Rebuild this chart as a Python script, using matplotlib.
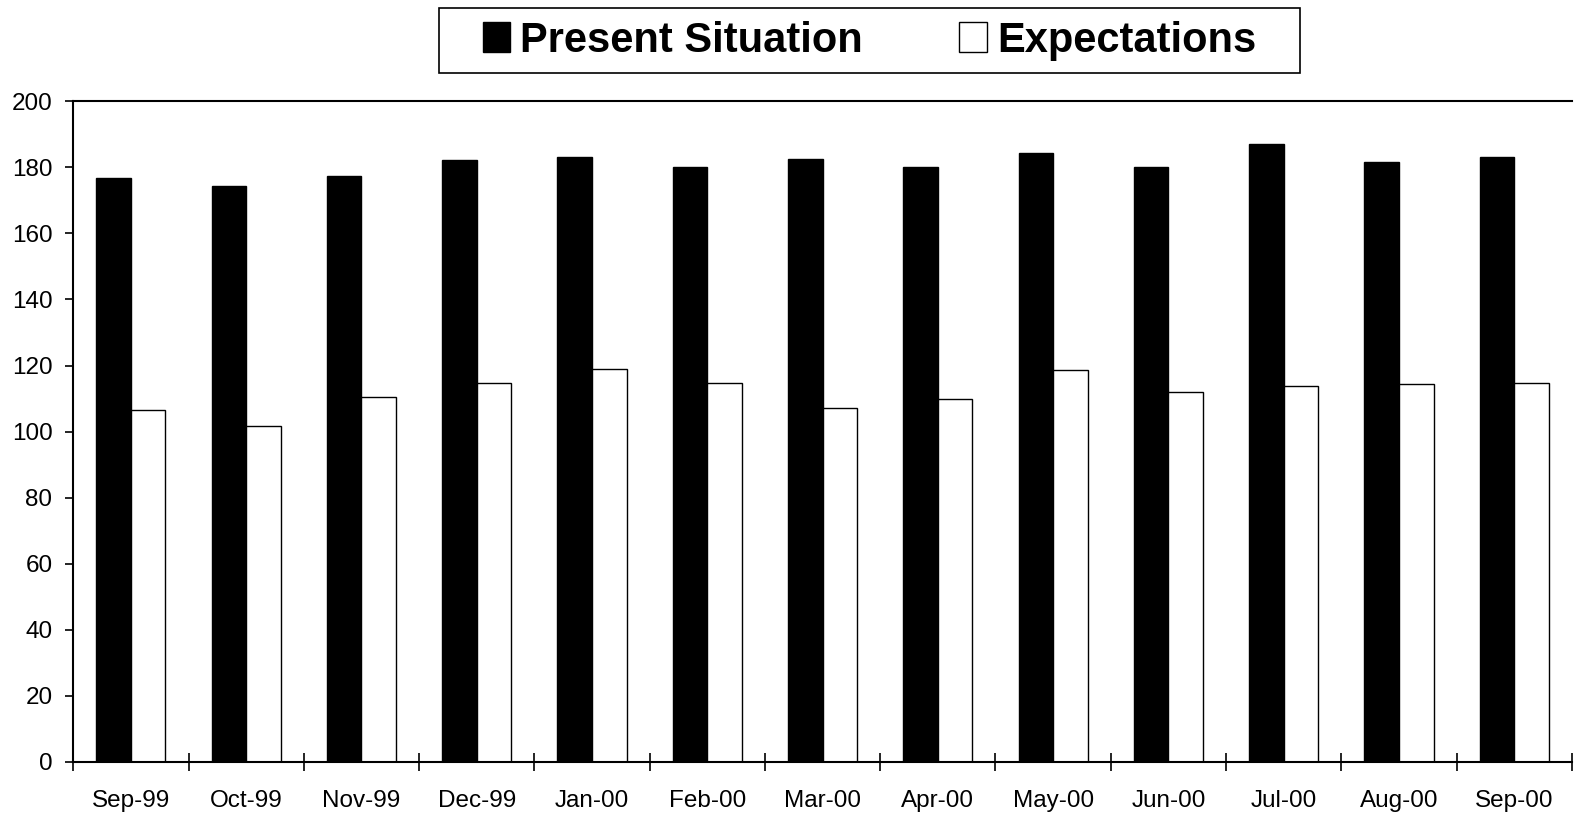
import matplotlib
matplotlib.use("Agg")
import matplotlib.pyplot as plt
import numpy as np
from matplotlib.patches import Rectangle, Patch

plt.rcParams['font.family'] = ['Liberation Sans', 'DejaVu Sans']

months = ["Sep-99", "Oct-99", "Nov-99", "Dec-99", "Jan-00", "Feb-00", "Mar-00",
          "Apr-00", "May-00", "Jun-00", "Jul-00", "Aug-00", "Sep-00"]
present = [176.7, 174.3, 177.3, 182.2, 183.1, 180.2, 182.6,
           180.2, 184.2, 180.2, 187.1, 181.7, 183.1]
expectations = [106.5, 101.8, 110.4, 114.6, 119.1, 114.6, 107.0,
                109.9, 118.7, 111.9, 113.9, 114.3, 114.7]
yticks = [0, 20, 40, 60, 80, 100, 120, 140, 160, 180, 200]

fig = plt.figure(figsize=(15.75, 8.16), dpi=100)
ax = fig.add_axes([0.0465, 0.0662, 0.9515, 0.8097])

x = np.arange(len(months))
w = 0.3
ax.bar(x - w / 2, present, width=w, color="black", edgecolor="black", linewidth=1)
ax.bar(x + w / 2, expectations, width=w, color="white", edgecolor="black", linewidth=1)

ax.set_xlim(-0.5, len(months) - 0.5)
ax.set_ylim(0, 200)
ax.set_yticks(yticks)
ax.tick_params(axis="y", direction="out", length=6, width=1.2, labelsize=17.5, pad=9)

# category labels at group centres, tick marks on group boundaries
ax.set_xticks(x)
ax.set_xticklabels(months)
ax.set_xticks(np.arange(-0.5, len(months), 1.0), minor=True)
ax.tick_params(axis="x", which="major", length=0, labelsize=17.5, pad=20)
ax.tick_params(axis="x", which="minor", direction="inout", length=13, width=1.2)

for side in ("left", "bottom", "top"):
    ax.spines[side].set_linewidth(1.5)
ax.spines["right"].set_visible(False)

handles = [Patch(facecolor="black", edgecolor="black"),
           Patch(facecolor="white", edgecolor="black")]
fig.legend(handles, ["Present Situation", "Expectations"], loc="center",
           bbox_to_anchor=(0.552, 0.950), ncol=2, frameon=False,
           prop={"weight": "bold", "size": 30}, handlelength=0.67,
           handleheight=0.72, handletextpad=0.24, columnspacing=2.3)
fig.patches.append(Rectangle((439 / 1575, 1 - 73 / 816), (1300 - 439) / 1575, 65 / 816,
                             transform=fig.transFigure, fill=False,
                             edgecolor="black", linewidth=1.2))

fig.savefig("out.png", dpi=100)
